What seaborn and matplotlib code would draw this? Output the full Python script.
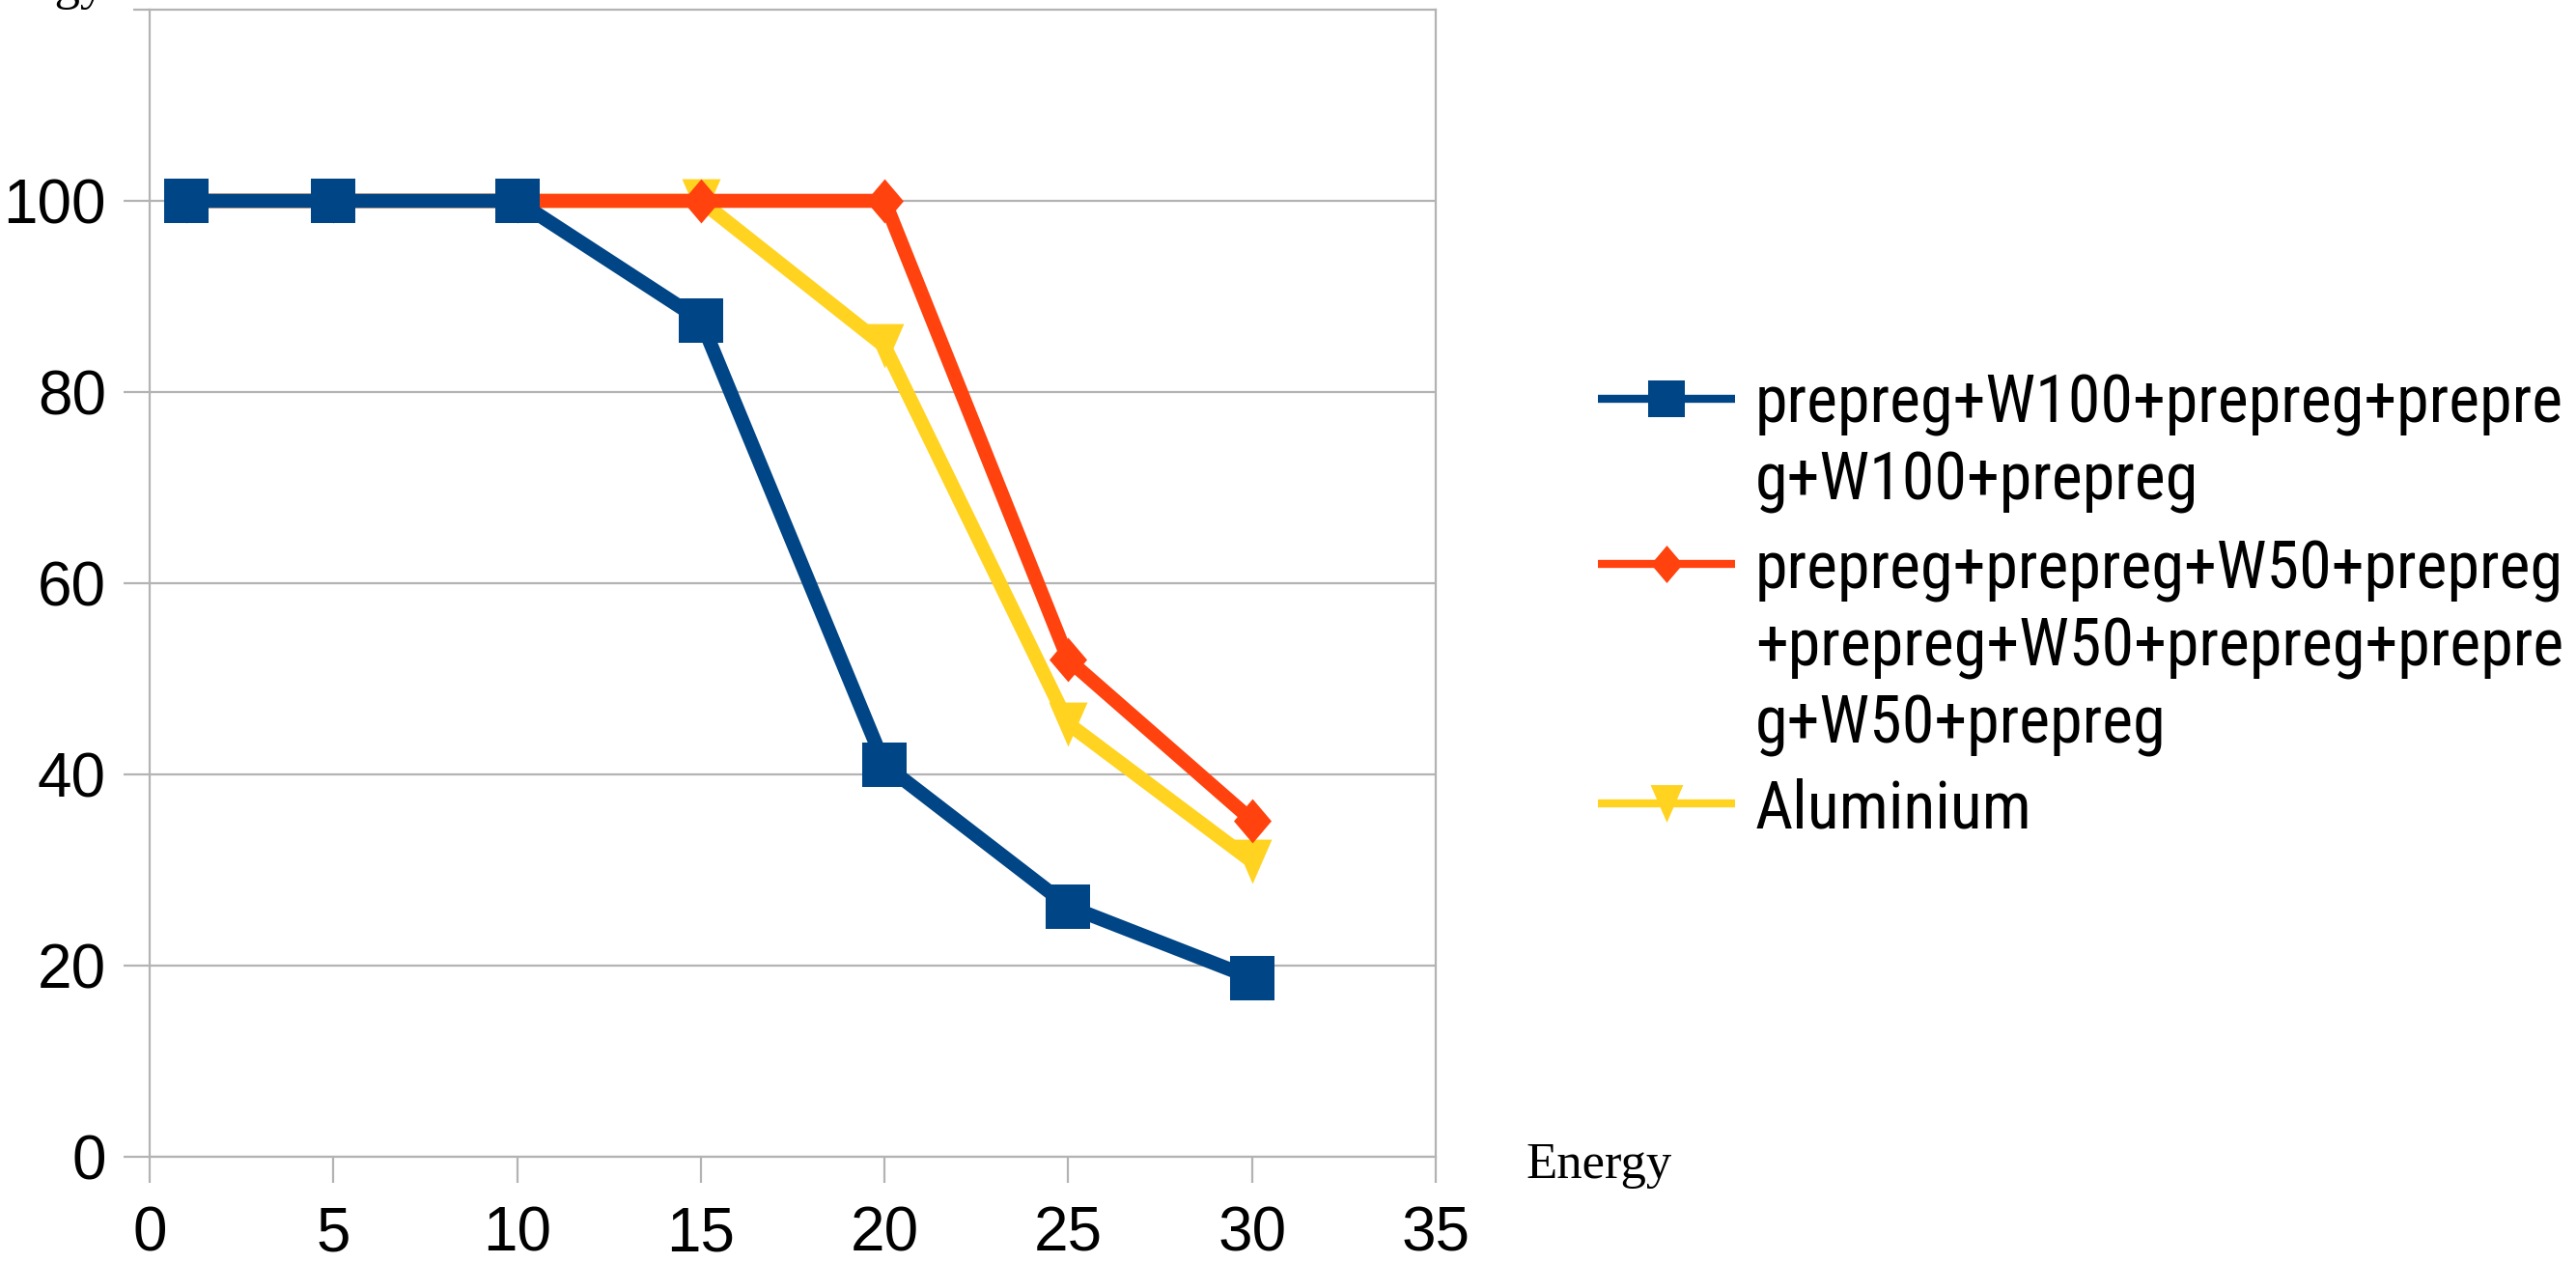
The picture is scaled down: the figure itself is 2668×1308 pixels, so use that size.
import matplotlib
matplotlib.use("Agg")
import matplotlib.pyplot as plt
from matplotlib import font_manager
from matplotlib.lines import Line2D
from matplotlib.path import Path
import seaborn as sns
import pandas as pd

# ---- data ----
energy = [1, 5, 10, 15, 20, 25, 30]
w100_values = [100, 100, 100, 87.5, 41, 26.2, 18.7]
w50_values = [100, 100, 100, 100, 100, 52, 35.2]
alu_values = [100, 100, 100, 100, 84.8, 45.3, 30.9]

series_names = [
    "prepreg+W100+prepreg+prepre\ng+W100+prepreg",
    "prepreg+prepreg+W50+prepreg\n+prepreg+W50+prepreg+prepre\ng+W50+prepreg",
    "Aluminium",
]
series_values = [w100_values, w50_values, alu_values]
series_colors = ["#004586", "#ff420e", "#ffd320"]

x_ticks = [0, 5, 10, 15, 20, 25, 30, 35]
y_ticks = [0, 20, 40, 60, 80, 100]
axis_title = "Energy"

# ---- style ----
sns.set_style("white")
plt.rcParams["font.family"] = ["Liberation Sans", "DejaVu Sans"]


def pick_font(candidates):
    for name in candidates:
        try:
            font_manager.findfont(name, fallback_to_default=False)
            return name
        except Exception:
            continue
    return "DejaVu Sans"


narrow_font = pick_font(["Liberation Sans Narrow", "Roboto Condensed",
                         "DejaVu Sans Condensed", "Liberation Sans"])
serif_font = pick_font(["Liberation Serif", "DejaVu Serif"])

W, H = 2668, 1308
fig = plt.figure(figsize=(W / 100, H / 100), dpi=100)
fig.patch.set_facecolor("white")

left, right, top, bottom = 155, 1487, 10, 1198
ax = fig.add_axes([left / W, (H - bottom) / H, (right - left) / W, (bottom - top) / H])

grid_col = "#b3b3b3"

# custom marker shapes
diamond = Path([(0, 1), (0.85, 0), (0, -1), (-0.85, 0), (0, 1)],
               [Path.MOVETO, Path.LINETO, Path.LINETO, Path.LINETO, Path.CLOSEPOLY])
tri_down = Path([(-0.87, 1), (0.87, 1), (0, -1), (-0.87, 1)],
                [Path.MOVETO, Path.LINETO, Path.LINETO, Path.CLOSEPOLY])
series_markers = ["s", diamond, tri_down]
series_z = [5, 4, 3]

for name, vals, col, mk, z in zip(series_names, series_values, series_colors,
                                  series_markers, series_z):
    df = pd.DataFrame({"Energy": energy, "value": vals})
    sns.lineplot(data=df, x="Energy", y="value", ax=ax, color=col,
                 linewidth=10.5, marker=mk, markersize=33,
                 markeredgewidth=0, zorder=z, legend=False)

ax.set_xlim(0, 35)
ax.set_ylim(0, 120)
ax.set_xticks(x_ticks)
ax.set_xticklabels([str(v) for v in x_ticks])
ax.set_yticks(y_ticks)
ax.set_yticklabels([str(v) for v in y_ticks])
ax.set_yticks([120], minor=True)
ax.set_xlabel("")
ax.set_ylabel("")

ax.yaxis.grid(True, color=grid_col, linewidth=1.6, zorder=0)
ax.xaxis.grid(False)
ax.set_axisbelow(True)
for sp in ax.spines.values():
    sp.set_visible(True)
    sp.set_color(grid_col)
    sp.set_linewidth(1.6)

ax.tick_params(axis="y", which="major", direction="out", length=19.5, width=1.6,
               color=grid_col, pad=13, labelsize=46, labelcolor="black", left=True)
ax.tick_params(axis="y", which="minor", direction="out", length=12, width=1.6,
               color=grid_col, left=True)
ax.tick_params(axis="x", direction="out", length=19.5, width=1.6,
               color=grid_col, pad=17, labelsize=46, labelcolor="black", bottom=True)

# axis titles
fig.text(1580 / W, (H - 1220) / H, axis_title, family=serif_font, fontsize=38,
         ha="left", va="baseline", color="black")
fig.text(110 / W, 1 + 1.5 / H, axis_title, family=serif_font, fontsize=38,
         ha="right", va="baseline", color="black")

# legend
legend_rows = [413, 584, 832]
line_gap = 80
text_x = 1818
for name, col, mk, y0 in zip(series_names, series_colors, series_markers, legend_rows):
    fy = (H - y0) / H
    fig.add_artist(Line2D([1655 / W, 1797 / W], [fy, fy], transform=fig.transFigure,
                          color=col, linewidth=6, solid_capstyle="butt"))
    fig.add_artist(Line2D([1726 / W], [fy], transform=fig.transFigure,
                          color=col, marker=mk, markersize=28, markeredgewidth=0,
                          linestyle="none"))
    for i, part in enumerate(name.split("\n")):
        by = y0 + 25 + i * line_gap
        fig.text(text_x / W, (H - by) / H, part, family=narrow_font, fontsize=49,
                 ha="left", va="baseline", color="black")

fig.savefig("out.png", dpi=100, facecolor="white")
